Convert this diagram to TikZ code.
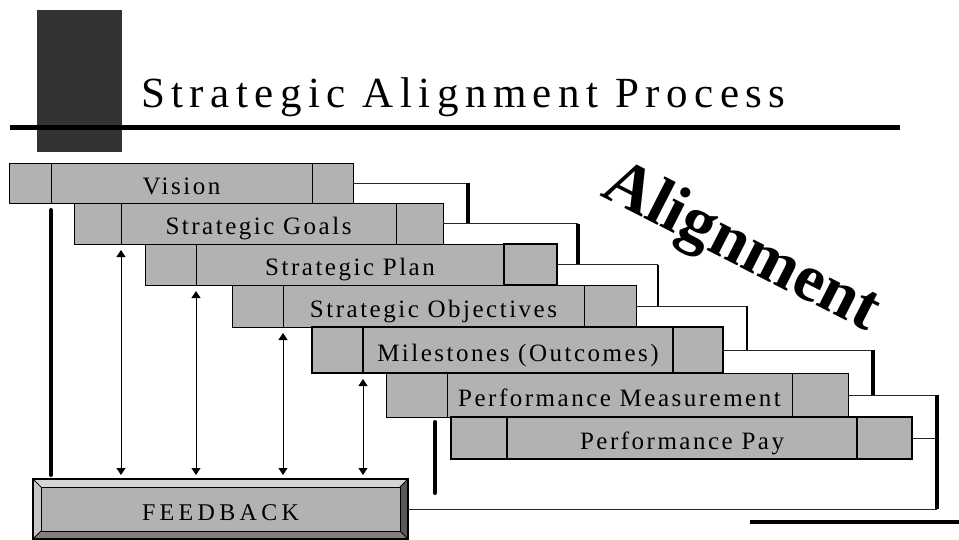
\documentclass[tikz,border=0pt]{standalone}
\usepackage{fontspec}
\setmainfont{Liberation Serif}
\usepackage{tikz}
\usetikzlibrary{positioning}
\usetikzlibrary{arrows.meta}

\begin{document}
\begin{tikzpicture}[x=1pt,y=-1pt,>={Triangle[width=9pt,length=7pt]}]
        \definecolor{tone}{gray}{0.7}
        \tikzstyle{cell}=[draw=black,fill=tone,inner sep=0pt,outer sep=0pt,anchor=north west,
            text height=22pt,text depth=0pt,
            font=\fontsize{25}{25}\selectfont\addfontfeature{LetterSpace=10}]
        \tikzstyle{link}=[draw=black!85,line width=1pt]
        \tikzstyle{heavy}=[line width=4pt,line cap=round]
        \tikzstyle{feed}=[<->,line width=1pt,shorten <=6pt,shorten >=4pt]
        \useasboundingbox (0,0) rectangle (959,539);

        \fill[black!80] (37,10) rectangle (122,152);
        \fill[black] (10,125) rectangle (900,130);
        \node[anchor=base west, inner sep=0pt,
            font=\fontsize{43}{43}\selectfont\addfontfeature{LetterSpace=15}]
            (title) at (141,107) {Strategic Alignment Process};

        \foreach \n/\xa/\xb/\xc/\xd/\ya/\yb/\lw/\rw/\txt in {
            1/9/51/312/353/163/203/0.8pt/0.8pt/Vision,
            2/74/121/396/443/203/244/0.8pt/0.8pt/Strategic Goals,
            3/145/196/504/557/244/285/0.8pt/2.5pt/Strategic Plan,
            4/232/283/584/636/285/327/0.8pt/0.8pt/Strategic Objectives,
            5/312/363/673/723/327/373/2.5pt/2.5pt/Milestones (Outcomes),
            6/386/447/792/848/373/417/0.8pt/0.8pt/Performance Measurement,
            7/451/507/857/912/417/459/2.5pt/2.5pt/Performance Pay} {
            \node[cell, line width=\lw, minimum width=\xb-\xa, minimum height=\yb-\ya] (L\n) at (\xa,\ya) {};
            \node[cell, line width=\lw, minimum width=\xc-\xb, minimum height=\yb-\ya] (M\n) at (\xb,\ya) {\txt};
            \node[cell, line width=\rw, minimum width=\xd-\xc, minimum height=\yb-\ya] (R\n) at (\xc,\ya) {};
        }

        \node[draw=black, line width=1.5pt, fill=tone, inner sep=0pt, outer sep=0pt,
            anchor=north west, minimum width=375, minimum height=60] (fb) at (33,479) {};
        \fill[tone!55!white] (fb.north west) -- (fb.north east) -- ([shift={(-8pt,-8pt)}]fb.north east)
            -- ([shift={(8pt,-8pt)}]fb.north west) -- cycle;
        \fill[tone!75!white] (fb.north west) -- ([shift={(8pt,-8pt)}]fb.north west)
            -- ([shift={(8pt,8pt)}]fb.south west) -- (fb.south west) -- cycle;
        \fill[black!65] (fb.north east) -- ([shift={(-8pt,-8pt)}]fb.north east)
            -- ([shift={(-8pt,8pt)}]fb.south east) -- (fb.south east) -- cycle;
        \fill[black!50] (fb.south west) -- ([shift={(8pt,8pt)}]fb.south west)
            -- ([shift={(-8pt,8pt)}]fb.south east) -- (fb.south east) -- cycle;
        \draw[line width=1.5pt] (fb.north west) rectangle (fb.south east);
        \draw[fill=tone, line width=1pt] ([shift={(8pt,-8pt)}]fb.north west) rectangle ([shift={(-8pt,8pt)}]fb.south east);
        \foreach \c/\dx/\dy in {north west/8/-8, north east/-8/-8, south west/8/8, south east/-8/8}
            \draw[line width=0.8pt] (fb.\c) -- ++(\dx pt,\dy pt);
        \node[inner sep=0pt, text height=22pt, text depth=0pt,
            font=\fontsize{24}{24}\selectfont\addfontfeature{LetterSpace=18}]
            (fbtext) at (fb.center) {FEEDBACK};

        \draw[heavy, shorten <=7pt, shorten >=4pt] (M1.south west) -- (M1.south west |- fb.north);
        \foreach \n in {2,3,4,5}
            \draw[feed] (M\n.south west) -- (M\n.south west |- fb.north);

        \coordinate (k1) at (468,0);
        \coordinate (k2) at (578,0);
        \coordinate (k3) at (658,0);
        \coordinate (k4) at (747,0);
        \coordinate (k5) at (873,0);
        \coordinate (k6) at (937,0);
        \foreach \i/\j/\w in {1/2/3.5pt,2/3/3.5pt,3/4/1.5pt,4/5/1.5pt,5/6/3.5pt} {
            \draw[link] (R\i.east) -- (k\i |- R\i.east);
            \draw[line width=\w] (k\i |- R\i.east) -- (k\i |- R\j.east);
        }
        \draw[link] (R6.east) -- (k6 |- R6.east);
        \draw[line width=3.5pt] (k6 |- R6.east) -- (k6 |- fb.east);
        \draw[link] (R7.east) -- (k6 |- R7.east);
        \draw[link] (fb.east) -- (k6 |- fb.east);

        \draw[heavy] (435,422) -- (435,493);
        \fill[black] (750,520) rectangle (959,524);

        \node[anchor=base west, inner sep=0pt, rotate=-27, font=\fontsize{67}{67}\selectfont\bfseries]
            (align) at (599,195) {Alignment};
\end{tikzpicture}
\end{document}
